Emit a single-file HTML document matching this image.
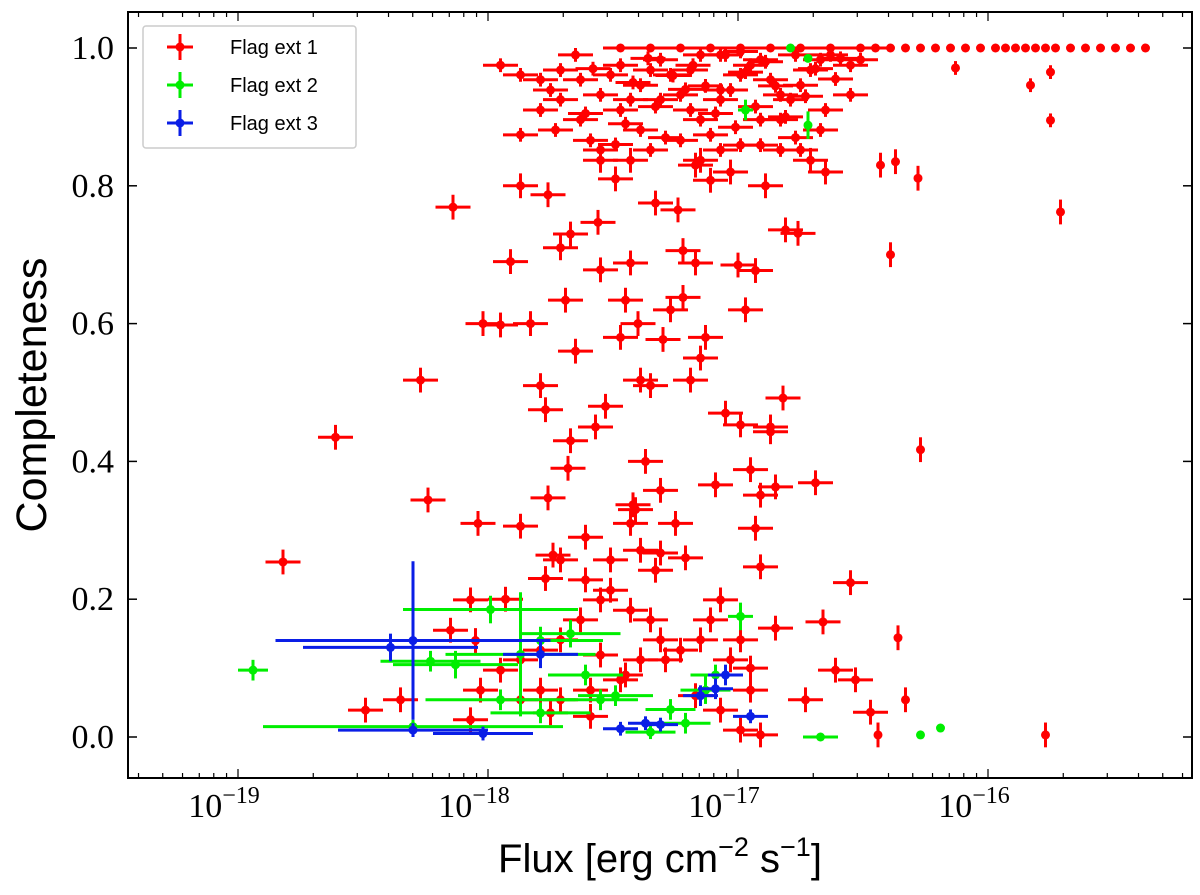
<!DOCTYPE html>
<html><head><meta charset="utf-8"><style>
body{margin:0;background:#fff;}
svg{display:block;}
</style></head><body>
<svg id="chart" width="1200" height="895" xmlns="http://www.w3.org/2000/svg">
<rect width="1200" height="895" fill="#fff"/>
<g id="marks"></g>
<g id="axes"></g>
</svg>
<script>
// Flag ext 1 (red): log10 flux, completeness
const redLogFlux = [-18.82,-18.61,-18.27,-18.24,-18.14,-18.04,-17.87,-18.02,-17.91,-17.95,-17.87,-17.79,-17.77,-17.76,-17.71,-17.67,-17.69,-17.67,-17.76,-17.68,-17.74,-17.77,-17.56,-17.55,-17.53,-17.49,-17.45,-17.43,-17.40,-17.39,-17.35,-17.42,-17.43,-17.31,-17.30,-17.33,-17.24,-17.22,-17.19,-17.22,-17.17,-17.25,-17.31,-17.15,-17.09,-17.00,-16.93,-16.99,-16.95,-16.91,-16.93,-16.87,-16.85,-16.82,-16.91,-16.81,-16.76,-16.69,-16.71,-16.65,-16.55,-16.53,-16.47,-16.44,-16.43,-16.37,-16.39,-16.28,-16.27,-16.36,-16.33,-15.77,-15.71,-15.83,-15.75,-15.75,-16.13,-16.73,-16.61,-16.66,-16.85,-18.49,-18.35,-18.07,
-18.03,-17.95,-17.87,-17.79,-17.71,-17.63,-17.55,-17.51,-17.43,-17.35,-17.31,-17.23,-17.15,-17.11,-17.07,-17.03,-16.99,-16.95,-17.07,-16.99,-16.91,-17.71,-17.59,-17.47,-17.39,-17.29,-17.79,-17.87,-17.55,-18.15,-18.07,-17.71,-17.61,-17.51,-17.39,-17.33,
-17.95,-17.87,-17.79,-17.75,-17.71,-17.73,-17.63,-17.59,-17.55,-17.47,-17.43,-17.39,-17.35,-17.31,-17.27,-17.23,-17.19,-17.15,-17.11,-17.07,-17.03,-16.99,-16.95,-16.91,-16.87,-16.83,-16.79,-16.75,-16.71,-16.67,-16.63,-16.59,-16.55,-16.51,-17.55,-17.51,-17.47,-17.15,-17.07,-16.99,-17.23,-17.35,-17.43,-17.55,-17.07,-16.99,-16.91,-16.83,-16.75,-16.55,-16.67,-17.07,-17.19,-17.31,-17.39,-17.63,-17.71,-17.79,-17.87,-17.15,-17.11,-16.91,-16.83,
-17.47,-17.35,-17.23,-17.11,-16.99,-16.87,-16.75,-16.63,-16.51,-16.45,-16.39,-16.33,-16.27,-16.21,-16.15,-16.09,-16.03,-15.97,-15.93,-15.89,-15.85,-15.81,-15.77,-15.73,-15.67,-15.61,-15.55,-15.49,-15.43,-15.37,
-17.65,-17.58,-17.42,-17.36,-17.26,-17.18,-17.13,-17.05,-16.97,-16.89,-16.85,-16.77,-16.69,-16.61,-17.61,-17.45,-17.33,-17.21,-17.09,-17.01,-16.93,-16.81,-16.73,-16.65,-17.49,-17.29,-17.17,-17.03,-16.89,-16.77,
-17.83,-17.65,-17.47,-17.27,-17.13,-16.97,-16.87,-17.57,-17.37,-17.05,-18.05,-17.93,-17.61,-17.41,-17.21,-17.45,-17.17,-16.95,-17.75,-17.59];
const redComp = [0.254,0.435,0.518,0.344,0.769,0.31,0.306,0.60,0.69,0.598,0.80,0.51,0.475,0.787,0.71,0.73,0.634,0.43,0.347,0.39,0.264,0.23,0.747,0.678,0.48,0.81,0.634,0.688,0.60,0.518,0.51,0.337,0.31,0.358,0.577,0.775,0.765,0.706,0.518,0.638,0.688,0.31,0.267,0.55,0.366,0.685,0.677,0.453,0.388,0.351,0.303,0.443,0.363,0.492,0.247,0.736,0.731,0.369,0.837,0.82,0.224,0.083,0.036,0.003,0.83,0.835,0.70,0.811,0.417,0.144,0.054,0.003,0.762,0.946,0.965,0.895,0.971,0.054,0.097,0.167,0.158,0.039,0.054,0.025,
0.068,0.097,0.112,0.126,0.141,0.17,0.199,0.213,0.184,0.17,0.141,0.126,0.141,0.17,0.199,0.112,0.141,0.068,0.039,0.01,0.003,0.054,0.068,0.083,0.112,0.112,0.068,0.054,0.119,0.155,0.199,0.257,0.228,0.257,0.271,0.242,
0.975,0.961,0.954,0.939,0.925,0.881,0.896,0.866,0.852,0.91,0.925,0.946,0.968,0.983,0.961,0.932,0.91,0.896,0.874,0.925,0.939,0.961,0.975,0.983,0.954,0.932,0.925,0.946,0.968,0.983,0.99,0.985,0.975,0.983,0.932,0.961,0.975,0.99,0.99,0.995,0.866,0.852,0.837,0.837,0.852,0.859,0.859,0.852,0.852,0.932,0.881,0.939,0.968,0.925,0.881,0.954,0.968,0.91,0.874,0.837,0.808,0.896,0.896,
1,1,1,1,1,1,1,1,1,1,1,1,1,1,1,1,1,1,1,1,1,1,1,1,1,1,1,1,1,1,
0.99,0.97,0.95,0.985,0.96,0.975,0.945,0.99,0.965,0.98,0.945,0.99,0.97,0.955,0.905,0.89,0.915,0.94,0.905,0.885,0.915,0.9,0.93,0.91,0.86,0.87,0.83,0.82,0.8,0.87,
0.6,0.56,0.58,0.62,0.58,0.62,0.45,0.45,0.40,0.47,0.14,0.2,0.29,0.33,0.26,0.09,0.06,0.1,0.035,0.03];
const redXErr = redLogFlux.map(v => v > -16.45 ? 0 : 0.07);
const redYErr = redComp.map(c => c > 0.995 ? 0 : (c > 0.85 ? 0.01 : 0.018));

// Flag ext 2 (green)
const greenLogFlux = [-18.94,-17.99,-17.87,-18.23,-18.13,-17.95,-18.30,-17.79,-17.67,-17.55,-17.35,-17.13,-17.09,-16.99,-16.79,-16.72,-16.72,-16.97,-16.67,-16.27,-16.19,-17.79,-17.49,-17.27,-17.61,-17.21];
const greenComp = [0.097,0.185,0.12,0.11,0.105,0.054,0.015,0.14,0.15,0.054,0.007,0.068,0.09,0.175,1.0,0.985,0.888,0.91,0.0,0.003,0.013,0.035,0.06,0.04,0.09,0.02];
const greenXErr = [0.06,0.35,0.3,0.2,0.25,0.3,0.6,0.25,0.2,0.15,0.1,0.1,0.1,0.05,0,0,0,0.03,0.07,0,0,0.2,0.15,0.1,0.15,0.1];
const greenYErr = [0.015,0.02,0.09,0.015,0.02,0.015,0.01,0.02,0.02,0.015,0.01,0.02,0.015,0.02,0,0,0.02,0.015,0,0,0,0.015,0.015,0.015,0.015,0.015];

// Flag ext 3 (blue)
const blueLogFlux = [-18.3,-18.39,-18.3,-18.02,-17.79,-17.47,-17.37,-17.31,-17.09,-17.05,-16.95,-17.15];
const blueComp = [0.14,0.13,0.01,0.005,0.12,0.012,0.02,0.018,0.07,0.09,0.03,0.06];
const blueXErr = [0.55,0.35,0.3,0.2,0.15,0.07,0.07,0.07,0.07,0.07,0.07,0.07];
const blueYErr = [0.115,0.02,0.01,0.01,0.02,0.01,0.01,0.01,0.015,0.015,0.01,0.015];

const xTickExps = [-19,-18,-17,-16];
const yTicks = [0.0,0.2,0.4,0.6,0.8,1.0];
const yTickLabels = ["0.0","0.2","0.4","0.6","0.8","1.0"];

const L=128,R=1192,T=12,B=778;
function xs(lx){return 238 + (lx + 19) * 250;}
function ys(c){return 737 - c * 689;}
const NS="http://www.w3.org/2000/svg";
function mk(tag, attrs, parent){const e=document.createElementNS(NS,tag);for(const k in attrs)e.setAttribute(k,attrs[k]);parent.appendChild(e);return e;}
const marks=document.getElementById('marks');
const axes=document.getElementById('axes');

function drawSeries(lf, cp, xe, ye, color, name){
  const g=mk('g',{},marks);
  
  
  for(let i=0;i<lf.length;i++){
    const cx=xs(lf[i]), cy=ys(cp[i]);
    const x1=xs(lf[i]-xe[i]), x2=xs(lf[i]+xe[i]);
    const y1=ys(cp[i]+ye[i]), y2=ys(cp[i]-ye[i]);
    const p=mk('g',{},g);
    
    
    if(xe[i]>0) mk('line',{x1:x1,y1:cy,x2:x2,y2:cy,stroke:color,'stroke-width':3},p);
    if(ye[i]>0) mk('line',{x1:cx,y1:y1,x2:cx,y2:y2,stroke:color,'stroke-width':3},p);
    mk('circle',{cx:cx,cy:cy,r:4.5,fill:color},p);
  }
}
drawSeries(redLogFlux, redComp, redXErr, redYErr, '#ff0000', 'flag-ext-1-series');
drawSeries(greenLogFlux, greenComp, greenXErr, greenYErr, '#00ee00', 'flag-ext-2-series');
drawSeries(blueLogFlux, blueComp, blueXErr, blueYErr, '#0a1ee6', 'flag-ext-3-series');

const fr=mk('rect',{x:L,y:T,width:R-L,height:B-T,fill:'none',stroke:'#000','stroke-width':2},axes);



yTicks.forEach((v,i)=>{
  const y=ys(v);
  mk('line',{x1:L,y1:y,x2:L+9,y2:y,stroke:'#000','stroke-width':1.5},axes);
  mk('line',{x1:R,y1:y,x2:R-9,y2:y,stroke:'#000','stroke-width':1.5},axes);
  const t=mk('text',{x:L-14,y:y+11,'text-anchor':'end','font-family':'Liberation Serif, serif','font-size':34},axes);
  t.textContent=yTickLabels[i];
  
  
});
for(let d=-20; d<=-15; d++){
  for(let m=1;m<10;m++){
    const lx=d+Math.log10(m);
    const x=xs(lx);
    if(x<=L||x>=R) continue;
    const len=m===1?9:5;
    mk('line',{x1:x,y1:B,x2:x,y2:B-len,stroke:'#000','stroke-width':1.2},axes);
    mk('line',{x1:x,y1:T,x2:x,y2:T+len,stroke:'#000','stroke-width':1.2},axes);
  }
}
xTickExps.forEach(e=>{
  const x=xs(e);
  const t=mk('text',{x:x-14,y:817,'text-anchor':'middle','font-family':'Liberation Serif, serif','font-size':34},axes);
  
  
  t.textContent='10';
  const s=mk('tspan',{dy:-14,'font-size':24},t);
  s.textContent='\u2212'+Math.abs(e);
});
</script>
<svg style="position:absolute;left:0;top:0" width="1200" height="895" xmlns="http://www.w3.org/2000/svg">
<text x="660" y="872" text-anchor="middle" font-family="Liberation Sans, sans-serif" font-size="40">Flux [erg cm<tspan dy="-16" font-size="27">−2</tspan><tspan dy="16"> s</tspan><tspan dy="-16" font-size="27">−1</tspan><tspan dy="16">]</tspan></text>
<text transform="translate(46,395) rotate(-90)" text-anchor="middle" font-family="Liberation Sans, sans-serif" font-size="43">Completeness</text>
<g>
<rect x="143" y="26" width="213" height="122" rx="3" fill="#fff" fill-opacity="0.85" stroke="#ccc" stroke-width="1.5"/>
<g>
<line x1="167" y1="47" x2="193" y2="47" stroke="#ff0000" stroke-width="3"/><line x1="180" y1="34" x2="180" y2="60" stroke="#ff0000" stroke-width="3"/><circle cx="180" cy="47" r="4.5" fill="#ff0000"/>
<text x="230" y="54" font-family="Liberation Sans, sans-serif" font-size="20">Flag ext 1</text></g>
<g>
<line x1="167" y1="85" x2="193" y2="85" stroke="#00ee00" stroke-width="3"/><line x1="180" y1="72" x2="180" y2="98" stroke="#00ee00" stroke-width="3"/><circle cx="180" cy="85" r="4.5" fill="#00ee00"/>
<text x="230" y="92" font-family="Liberation Sans, sans-serif" font-size="20">Flag ext 2</text></g>
<g>
<line x1="167" y1="123" x2="193" y2="123" stroke="#0a1ee6" stroke-width="3"/><line x1="180" y1="110" x2="180" y2="136" stroke="#0a1ee6" stroke-width="3"/><circle cx="180" cy="123" r="4.5" fill="#0a1ee6"/>
<text x="230" y="130" font-family="Liberation Sans, sans-serif" font-size="20">Flag ext 3</text></g>
</g>
</svg>
</body></html>
